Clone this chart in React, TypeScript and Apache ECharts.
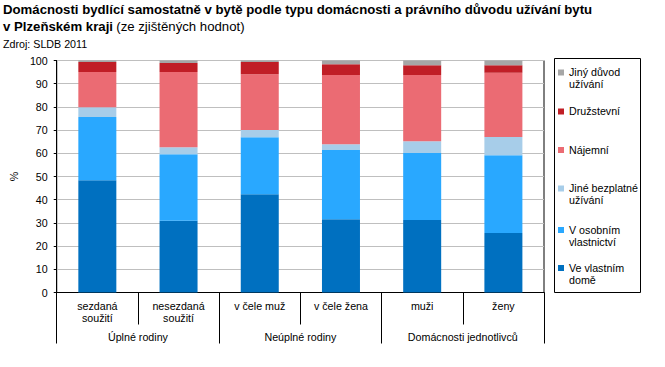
import React, { useEffect, useRef } from "react";
import * as echarts from "echarts";

const categories = ["sezdaná\nsoužití", "nesezdaná\nsoužití", "v čele muž", "v čele žena", "muži", "ženy"];
const groups = ["Úplné rodiny", "Neúplné rodiny", "Domácnosti jednotlivců"];
const yTicks = [0, 10, 20, 30, 40, 50, 60, 70, 80, 90, 100];

const seriesNames = [
  "Ve vlastním domě",
  "V osobním vlastnictví",
  "Jiné bezplatné užívání",
  "Nájemní",
  "Družstevní",
  "Jiný důvod užívání",
];
const legendLabels = [
  "Ve vlastním\ndomě",
  "V osobním\nvlastnictví",
  "Jiné bezplatné\nužívání",
  "Nájemní",
  "Družstevní",
  "Jiný důvod\nužívání",
];
const colors = ["#0070C0", "#29A8FF", "#A7CDE9", "#EB6B73", "#C01E26", "#A6A6A6"];

const vlastniDum = [48.4, 30.9, 42.4, 31.6, 31.2, 25.6];
const osobniVlastnictvi = [27.2, 28.7, 24.5, 29.8, 28.9, 33.6];
const bezplatne = [4.3, 3.0, 3.1, 2.5, 5.1, 7.8];
const najemni = [15.1, 32.4, 24.1, 29.8, 28.5, 27.7];
const druzstevni = [4.3, 3.9, 5.2, 4.7, 4.3, 3.3];
const jiny = [0.7, 1.1, 0.7, 1.6, 2.0, 2.0];
const seriesData = [vlastniDum, osobniVlastnictvi, bezplatne, najemni, druzstevni, jiny];

const FONT = "Arial, 'Liberation Sans', sans-serif";
const SMALL = 10.7;

export default function App() {
  const ref = useRef<HTMLDivElement>(null);
  useEffect(() => {
    if (!ref.current) return;
    const chart = echarts.init(ref.current, null, { renderer: "svg" });
    // legend entries, top to bottom (reverse stacking order)
    const legendTops = [72.5, 111.5, 150, 188.5, 230, 268];
    const legendGraphics: any[] = [];
    legendGraphics.push({
      type: "rect",
      shape: { x: 554.5, y: 58.5, width: 86, height: 234 },
      style: { fill: "#fff", stroke: "#000", lineWidth: 1 },
      silent: true,
    });
    for (let k = 0; k < seriesNames.length; k++) {
      const i = seriesNames.length - 1 - k;
      const cy = legendTops[k];
      legendGraphics.push({
        type: "rect",
        shape: { x: 558, y: cy - 3, width: 6, height: 6 },
        style: { fill: colors[i] },
        silent: true,
      });
      legendGraphics.push({
        type: "text",
        x: 569,
        y: cy - 6.5,
        style: {
          text: legendLabels[i],
          font: `${SMALL}px ${FONT}`,
          fill: "#000",
          lineHeight: 12,
          textVerticalAlign: "top",
        },
        silent: true,
      });
    }

    chart.setOption({
      animation: false,
      textStyle: { fontFamily: FONT },
      grid: {
        left: 42.5,
        right: 121,
        top: 60.5,
        bottom: 74.5,
        show: true,
        borderColor: "#000",
        borderWidth: 1,
        containLabel: false,
      },
      graphic: [
        {
          type: "text",
          x: 3,
          y: 3,
          style: {
            text: "Domácnosti bydlící samostatně v bytě podle typu domácnosti a právního důvodu užívání bytu",
            font: `bold 13.2px ${FONT}`,
            fill: "#000",
          },
        },
        {
          type: "text",
          x: 3,
          y: 19.5,
          style: {
            text: "{b|v Plzeňském kraji} {n|(ze zjištěných hodnot)}",
            rich: {
              b: { font: `bold 13.2px ${FONT}`, fill: "#000" },
              n: { font: `13.2px ${FONT}`, fill: "#000" },
            },
          },
        },
        {
          type: "text",
          x: 3,
          y: 38,
          style: { text: "Zdroj: SLDB 2011", font: `${SMALL}px ${FONT}`, fill: "#000" },
        },
        ...legendGraphics,
      ],
      xAxis: [
        {
          type: "category",
          data: categories,
          position: "bottom",
          axisLine: { show: true, lineStyle: { color: "#000", width: 1 } },
          axisTick: { show: true, length: 32, lineStyle: { color: "#000" } },
          axisLabel: {
            color: "#000",
            fontSize: SMALL,
            fontFamily: FONT,
            margin: 7,
            lineHeight: 12,
            interval: 0,
          },
          splitLine: { show: false },
        },
        {
          type: "category",
          data: groups,
          position: "bottom",
          axisLine: { show: false },
          axisTick: { show: true, length: 51, lineStyle: { color: "#000" } },
          axisLabel: {
            color: "#000",
            fontSize: SMALL,
            fontFamily: FONT,
            margin: 39,
            interval: 0,
          },
          splitLine: { show: false },
        },
      ],
      yAxis: {
        type: "value",
        min: yTicks[0],
        max: yTicks[yTicks.length - 1],
        interval: 10,
        name: "%",
        nameLocation: "middle",
        nameGap: 28,
        nameRotate: 90,
        nameTextStyle: { color: "#000", fontSize: SMALL, fontFamily: FONT },
        axisLine: { show: true, lineStyle: { color: "#000" } },
        axisTick: { show: true, length: 3, lineStyle: { color: "#000" } },
        axisLabel: { color: "#000", fontSize: SMALL, fontFamily: FONT, margin: 9 },
        splitLine: { show: true, lineStyle: { color: "#BFBFBF", width: 1 } },
      },
      series: seriesNames.map((name, i) => ({
        name,
        type: "bar",
        stack: "total",
        xAxisIndex: 0,
        barWidth: 38,
        data: seriesData[i],
        itemStyle: { color: colors[i] },
      })),
    });
    return () => chart.dispose();
  }, []);
  return (
    <div
      ref={ref}
      style={{ position: "fixed", left: 0, top: 0, width: 665, height: 367, background: "#fff" }}
    />
  );
}
